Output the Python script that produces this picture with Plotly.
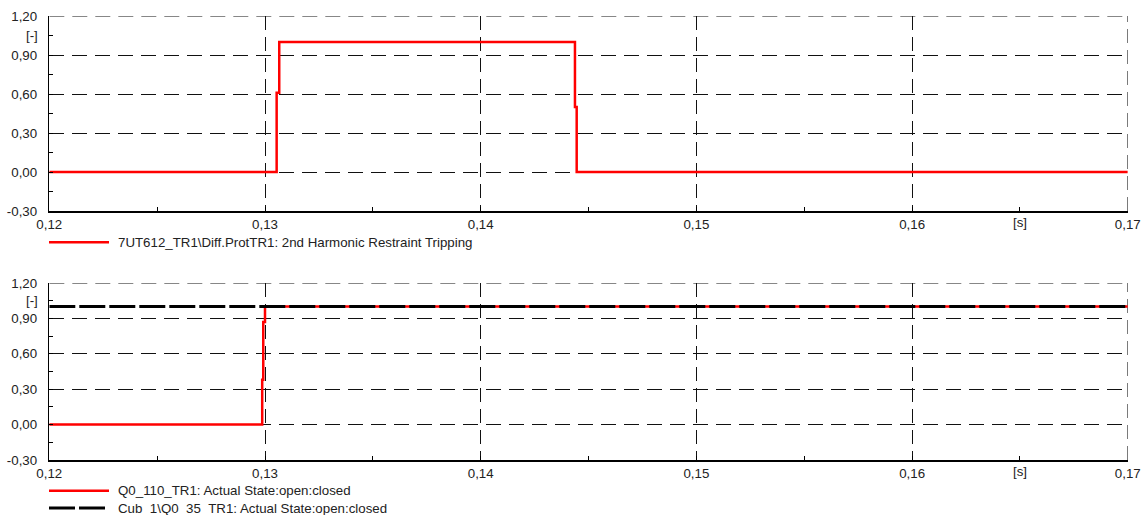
import plotly.graph_objects as go

# ---- data ----
t_trip = [0.12, 0.13054, 0.13066, 0.14437, 0.14445, 0.17]
y_trip = [0.0, 0.61, 1.0, 0.5, 0.0, 0.0]

t_q110 = [0.12, 0.12987, 0.12992, 0.13000, 0.17]
y_q110 = [0.0, 0.38, 0.87, 1.0, 1.0]

t_q35 = [0.12, 0.17]
y_q35 = [1.0, 1.0]

name_trip = "7UT612_TR1\\Diff.ProtTR1: 2nd Harmonic Restraint Tripping"
name_q110 = "Q0_110_TR1: Actual State:open:closed"
name_q35 = "Cub_1\\Q0_35_TR1: Actual State:open:closed"

x_range = [0.12, 0.17]
y_range = [-0.3, 1.2]
x_tickvals = [0.12, 0.13, 0.14, 0.15, 0.16, 0.17]
x_ticktext = ["0,12", "0,13", "0,14", "0,15", "0,16", "0,17"]
x_minor = [0.125, 0.135, 0.145, 0.155, 0.165]
x_unit = "[s]"
y_tickvals = [-0.3, 0.0, 0.3, 0.6, 0.9, 1.2]
y_ticktext = ["-0,30", "0,00", "0,30", "0,60", "0,90", "1,20"]
y_minor = [-0.15, 0.15, 0.45, 0.75, 1.05]
y_unit = "[-]"

W, H = 1145, 515
FONT = "Liberation Sans"
FS = 13.3
TXT = "#222"
RED = "#ff0000"
HDASH = "15px,8px"
VDASH = "14px,7px"

fig = go.Figure()

fig.add_trace(go.Scatter(x=t_trip, y=y_trip, mode="lines", line=dict(color=RED, width=2.5, shape="hv"),
                         name=name_trip, xaxis="x", yaxis="y", showlegend=False))
fig.add_trace(go.Scatter(x=t_q110, y=y_q110, mode="lines", line=dict(color=RED, width=2.5, shape="hv"),
                         name=name_q110, xaxis="x2", yaxis="y2", showlegend=False))
fig.add_trace(go.Scatter(x=t_q35, y=y_q35, mode="lines", line=dict(color="black", width=3, dash="26px,4px"),
                         name=name_q35, xaxis="x2", yaxis="y2", showlegend=False))

x0, x1 = 49.3 / W, 1127.8 / W
top_dom = [1 - 211 / H, 1 - 16 / H]
bot_dom = [1 - 460 / H, 1 - 283 / H]

def xaxis(anchor):
    return dict(domain=[x0, x1], range=x_range, anchor=anchor, automargin=False,
                tickvals=x_tickvals, ticktext=x_ticktext, ticks="inside", ticklen=4,
                tickcolor="black", showline=True, linecolor="black", linewidth=1.5,
                showgrid=True, gridcolor="#111", gridwidth=1, griddash=VDASH,
                minor=dict(tickvals=x_minor, ticks="inside", ticklen=4, tickcolor="black", showgrid=False),
                zeroline=False, tickfont=dict(family=FONT, size=FS, color=TXT),
                ticklabelstandoff=1, fixedrange=True)

def yaxis(anchor, dom):
    return dict(domain=dom, range=y_range, anchor=anchor, automargin=False,
                tickvals=y_tickvals, ticktext=y_ticktext, ticks="inside", ticklen=4,
                tickcolor="black", showline=True, linecolor="black", linewidth=1.5,
                showgrid=True, gridcolor="#111", gridwidth=1, griddash=HDASH,
                minor=dict(tickvals=y_minor, ticks="inside", ticklen=4, tickcolor="black", showgrid=False),
                zeroline=False, tickfont=dict(family=FONT, size=FS, color=TXT),
                ticklabelstandoff=8, fixedrange=True)

fig.update_layout(
    width=W, height=H,
    margin=dict(l=0, r=0, t=0, b=0, autoexpand=False),
    paper_bgcolor="white", plot_bgcolor="white",
    xaxis=xaxis("y"), yaxis=yaxis("x", top_dom),
    xaxis2=xaxis("y2"), yaxis2=yaxis("x2", bot_dom),
    showlegend=False,
)

for xa, ya in (("x", "y"), ("x2", "y2")):
    # dashed grid lines along the top and right edges (plotly omits edge gridlines)
    fig.add_shape(type="line", xref=xa, yref=ya, x0=x_range[0], x1=x_range[1], y0=y_range[1], y1=y_range[1],
                  line=dict(color="#111", width=1, dash=HDASH), layer="below")
    fig.add_shape(type="line", xref=xa, yref=ya, x0=x_range[1], x1=x_range[1], y0=y_range[0], y1=y_range[1],
                  line=dict(color="#111", width=1, dash=VDASH), layer="below")
    # unit labels
    fig.add_annotation(xref=xa, yref=ya, x=x_minor[-1], y=y_range[0], text=x_unit, showarrow=False,
                       xanchor="center", yanchor="top", yshift=-2,
                       font=dict(family=FONT, size=FS, color=TXT))
    fig.add_annotation(xref="paper", yref=ya, x=40 / W, y=y_minor[-1], text=y_unit, showarrow=False,
                       xanchor="right", yanchor="middle",
                       font=dict(family=FONT, size=FS, color=TXT))

# legends drawn manually
def legend_item(y_px, color, dash, width, text):
    fig.add_shape(type="line", xref="paper", yref="paper",
                  x0=49 / W, x1=109 / W, y0=1 - y_px / H, y1=1 - y_px / H,
                  line=dict(color=color, width=width, dash=dash))
    fig.add_annotation(xref="paper", yref="paper", x=116 / W, y=1 - y_px / H,
                       text=text, showarrow=False, xanchor="left", yanchor="middle",
                       font=dict(family=FONT, size=FS, color=TXT))

legend_item(242.3, RED, "solid", 2.5, name_trip)
legend_item(490.7, RED, "solid", 2.5, name_q110)
legend_item(508, "black", "26px,4px", 3, name_q35)

fig.write_html("out.html", config={"displayModeBar": False, "staticPlot": True},
               post_script="document.body.style.margin='0';document.body.style.overflow='hidden';")
